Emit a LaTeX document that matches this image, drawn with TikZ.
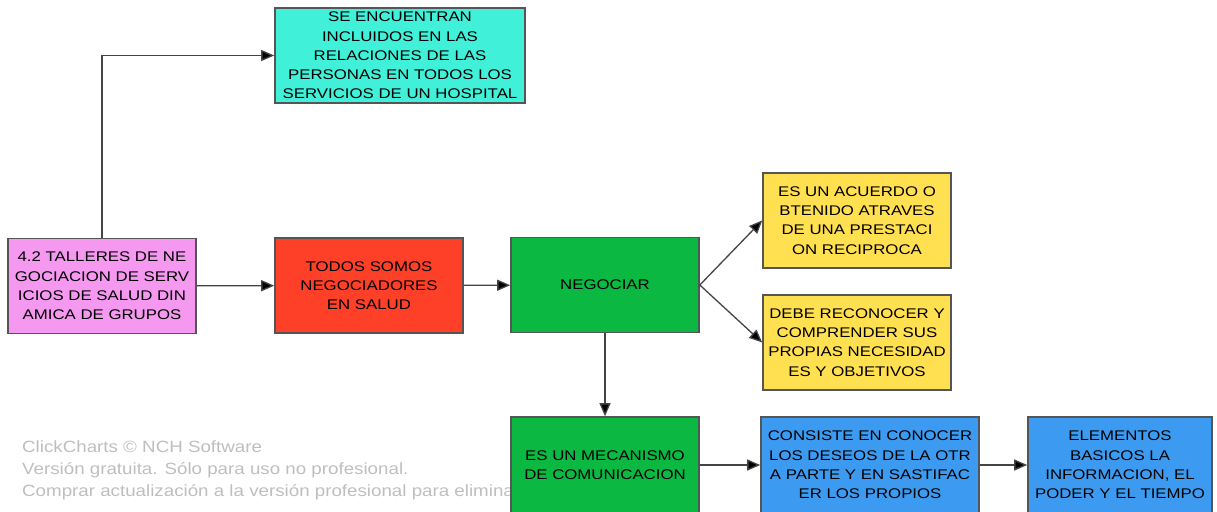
\documentclass[tikz,border=0pt]{standalone}
\usepackage{fontspec}
\setmainfont{Liberation Sans}
\newfontfamily\ancha[FakeStretch=1.2]{Liberation Sans}
\newfontfamily\anchamarca[FakeStretch=1.15]{Liberation Sans}
\usetikzlibrary{arrows.meta}
\definecolor{cajaturq}{RGB}{64,240,216}
\definecolor{cajarosa}{RGB}{245,152,240}
\definecolor{cajaroja}{RGB}{255,64,40}
\definecolor{cajaverde}{RGB}{11,185,66}
\definecolor{cajaamar}{RGB}{255,224,80}
\definecolor{cajaazul}{RGB}{60,155,240}
\definecolor{borde}{RGB}{85,85,85}
\definecolor{marca}{RGB}{190,190,190}
\begin{document}
\begin{tikzpicture}[x=1pt,y=-1pt,
	caja/.style={draw=borde,line width=1.6pt,align=center,inner sep=1pt,minimum width=188pt,minimum height=95pt,
		font=\ancha\fontsize{14}{19.3}\selectfont},
	flecha/.style={draw=borde!80!black,line width=1.3pt,-{Triangle[length=13pt,width=11pt,fill=black]}}]
			\useasboundingbox (0,0) rectangle (1217,511);
			\clip (0,0) rectangle (1217,511);
			% marca de agua
			\node[anchor=north west,align=left,text=marca,inner sep=0pt,font=\anchamarca\fontsize{16.3}{22}\selectfont] (marca) at (22,440)
				{ClickCharts © NCH Software\\Versión gratuita. Sólo para uso no profesional.\\Comprar actualización a la versión profesional para eliminar.};
			\node[caja,fill=cajaturq,minimum width=250pt] (incl) at (400,55.5) {SE ENCUENTRAN\\INCLUIDOS EN LAS\\RELACIONES DE LAS\\PERSONAS EN TODOS LOS\\SERVICIOS DE UN HOSPITAL};
			\node[caja,fill=cajarosa] (taller) at (102,286) {4.2 TALLERES DE NE\\GOCIACION DE SERV\\ICIOS DE SALUD DIN\\AMICA DE GRUPOS};
			\node[caja,fill=cajaroja] (todos) at (369,285.5) {TODOS SOMOS\\NEGOCIADORES\\EN SALUD};
			\node[caja,fill=cajaverde] (neg) at (605,285) {NEGOCIAR};
			\node[caja,fill=cajaamar] (acuerdo) at (857,220.5) {ES UN ACUERDO O\\BTENIDO ATRAVES\\DE UNA PRESTACI\\ON RECIPROCA};
			\node[caja,fill=cajaamar] (reconocer) at (857,342.5) {DEBE RECONOCER Y\\COMPRENDER SUS\\PROPIAS NECESIDAD\\ES Y OBJETIVOS};
			\node[caja,fill=cajaverde,minimum height=96pt] (mecan) at (605,465) {ES UN MECANISMO\\DE COMUNICACION};
			\node[caja,fill=cajaazul,minimum width=218pt,minimum height=96pt] (consiste) at (870,465) {CONSISTE EN CONOCER\\LOS DESEOS DE LA OTR\\A PARTE Y EN SASTIFAC\\ER LOS PROPIOS};
			\node[caja,fill=cajaazul,minimum width=184pt,minimum height=96pt] (elem) at (1120,465) {ELEMENTOS\\BASICOS LA\\INFORMACION, EL\\PODER Y EL TIEMPO};
			\draw[flecha] (taller.north) |- (incl.west);
			\draw[flecha] (taller) -- (todos);
			\draw[flecha] (todos) -- (neg);
			\draw[flecha] (neg.east) -- (acuerdo.west);
			\draw[flecha] (neg.east) -- (reconocer.west);
			\draw[flecha] (neg) -- (mecan);
			\draw[flecha] (mecan) -- (consiste);
			\draw[flecha] (consiste) -- (elem);
	\end{tikzpicture}
\end{document}
